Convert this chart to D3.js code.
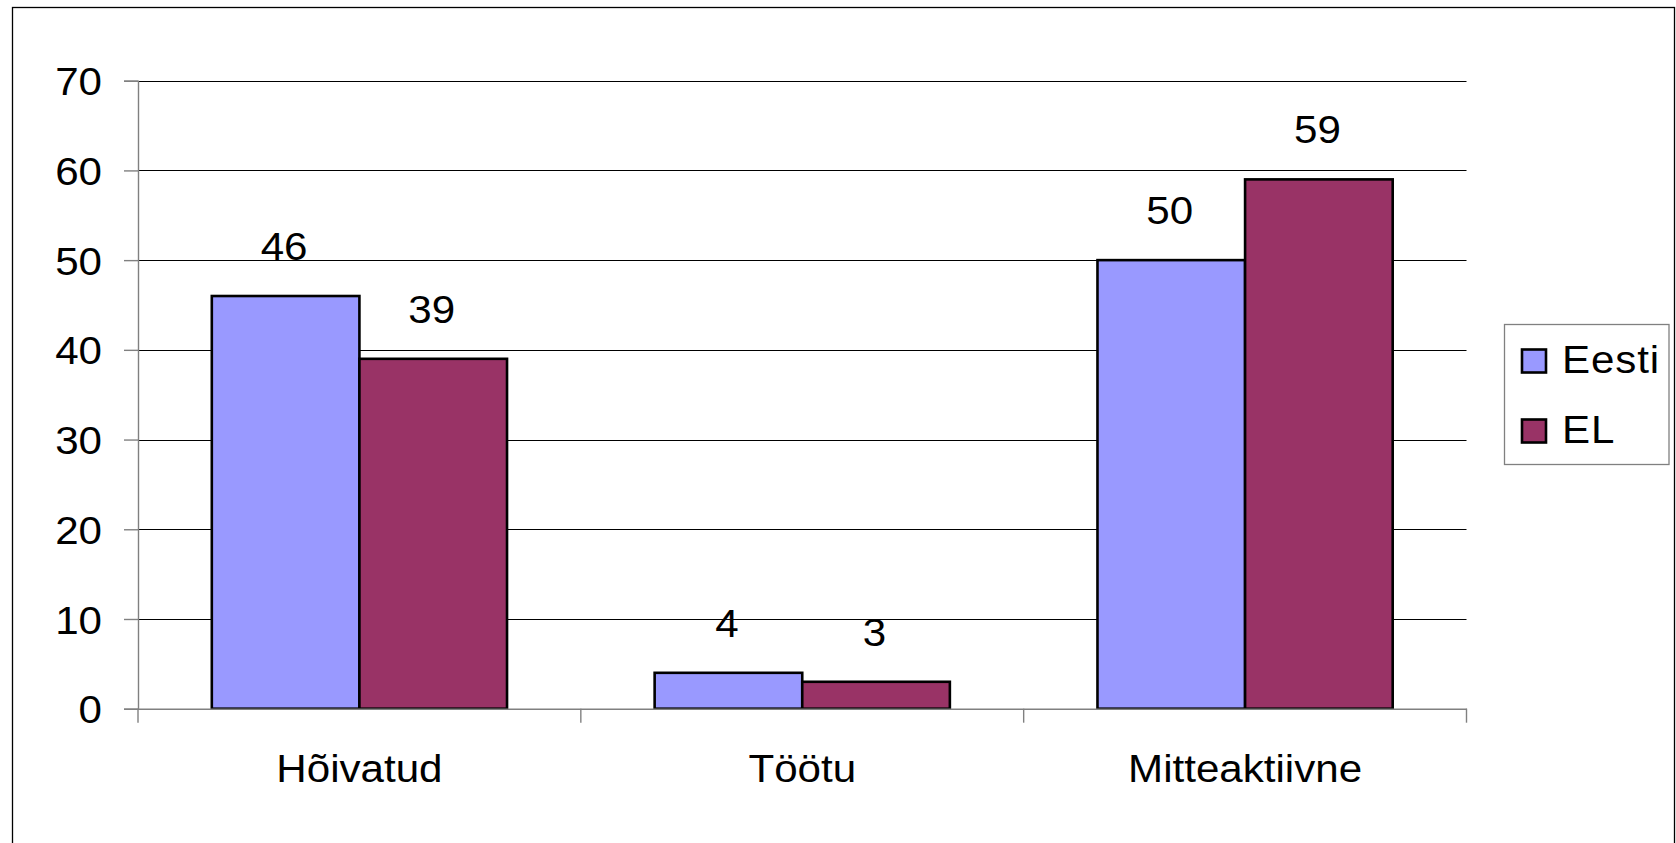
<!DOCTYPE html>
<html>
<head>
<meta charset="utf-8">
<script src="https://cdn.jsdelivr.net/npm/d3@7"></script>
<style>
  html, body { margin: 0; padding: 0; background: #fff; }
  svg { display: block; }
  text { font-family: "Liberation Sans", Arial, sans-serif; fill: #000; }
</style>
</head>
<body>
<svg id="chart" width="1676" height="843"></svg>
<script>
// Labour market status: Estonia vs EU (%)
const categories = ["Hõivatud", "Töötu", "Mitteaktiivne"];
const seriesNames = ["Eesti", "EL"];
const eestiValues = [46, 4, 50];
const elValues = [39, 3, 59];
const yTicks = [0, 10, 20, 30, 40, 50, 60, 70];
const seriesColors = ["#9999FF", "#993366"];

const series = [eestiValues, elValues];

const svg = d3.select("#chart");

// outer chart frame
svg.append("rect")
  .attr("x", 12.5).attr("y", 7.5)
  .attr("width", 1662).attr("height", 900)
  .attr("fill", "#fff").attr("stroke", "#000").attr("stroke-width", 1.3);

const plot = { left: 138, right: 1466.5, top: 80.7, bottom: 708.7 };

const x = d3.scaleBand()
  .domain(categories)
  .range([plot.left, plot.right])
  .paddingInner(0).paddingOuter(0);

const x1 = d3.scaleBand()
  .domain(seriesNames)
  .range([0, x.bandwidth()])
  .paddingOuter(0.5).paddingInner(0);

const y = d3.scaleLinear()
  .domain([0, 70])
  .range([plot.bottom, plot.top]);

const fontSize = 39;
const stretch = 1.08; // slightly wide lettering

// place a text at (px, py) with horizontal stretch about its anchor
function placeText(sel, px, py) {
  sel.attr("x", 0).attr("y", 0)
    .attr("transform", function (d, i) {
      return `translate(${px(d, i)},${py(d, i)}) scale(${stretch},1)`;
    });
}

// horizontal gridlines
svg.append("g")
  .selectAll("line")
  .data(yTicks.filter(d => d > 0))
  .join("line")
  .attr("x1", plot.left).attr("x2", plot.right)
  .attr("y1", d => Math.round(y(d)) + 0.5).attr("y2", d => Math.round(y(d)) + 0.5)
  .attr("stroke", "#000").attr("stroke-width", 1);

// y axis
const yAxis = d3.axisLeft(y).tickValues(yTicks).tickSize(14).tickPadding(22);
const gy = svg.append("g")
  .attr("transform", `translate(${plot.left},0)`)
  .call(yAxis);
gy.select(".domain").attr("stroke", "#808080").attr("stroke-width", 1.4);
gy.selectAll(".tick line").attr("stroke", "#808080").attr("stroke-width", 1.4);
gy.selectAll(".tick text")
  .attr("font-size", fontSize)
  .attr("font-family", "Liberation Sans, Arial, sans-serif")
  .attr("fill", "#000")
  .attr("dy", "0.36em")
  .attr("transform", `translate(-36,0) scale(${stretch},1)`)
  .attr("x", 0);

// bars
const groups = svg.append("g")
  .selectAll("g")
  .data(categories)
  .join("g")
  .attr("transform", d => `translate(${x(d)},0)`);

const cells = (d, i) => seriesNames.map((s, j) => ({ s, j, v: series[j][i] }));

groups.selectAll("rect")
  .data(cells)
  .join("rect")
  .attr("x", d => x1(d.s))
  .attr("width", x1.bandwidth())
  .attr("y", d => y(d.v))
  .attr("height", d => y(0) - y(d.v))
  .attr("fill", d => seriesColors[d.j])
  .attr("stroke", "#000")
  .attr("stroke-width", 2.6);

// value labels
groups.selectAll("text.val")
  .data(cells)
  .join("text")
  .attr("class", "val")
  .attr("text-anchor", "middle")
  .attr("font-size", fontSize)
  .text(d => d.v)
  .call(placeText, d => x1(d.s) + x1.bandwidth() / 2 - 1.5, d => y(d.v) - 36);

// x axis
const xAxis = d3.axisBottom(x).tickSize(0).tickPadding(0).tickFormat("");
const gx = svg.append("g")
  .attr("transform", `translate(0,${plot.bottom})`)
  .call(xAxis);
gx.select(".domain").attr("stroke", "#808080").attr("stroke-width", 1.4);

// category boundary ticks
const boundaries = categories.map(c => x(c)).concat([plot.right]);
gx.append("g").selectAll("line")
  .data(boundaries)
  .join("line")
  .attr("x1", d => d).attr("x2", d => d)
  .attr("y1", 0).attr("y2", 14)
  .attr("stroke", "#808080").attr("stroke-width", 1.4);

// category labels
svg.append("g").selectAll("text")
  .data(categories)
  .join("text")
  .attr("text-anchor", "middle")
  .attr("font-size", fontSize)
  .text(d => d)
  .call(placeText, d => x(d) + x.bandwidth() / 2, () => 781.7);

// legend
const legend = svg.append("g");
legend.append("rect")
  .attr("x", 1504.5).attr("y", 324.5)
  .attr("width", 164.5).attr("height", 140)
  .attr("fill", "#fff").attr("stroke", "#808080").attr("stroke-width", 1.3);

const legendRows = seriesNames.map((s, j) => ({ s, j }));
const ly = d3.scalePoint().domain(seriesNames).range([361, 431]);

legend.selectAll("rect.sw")
  .data(legendRows)
  .join("rect")
  .attr("class", "sw")
  .attr("x", 1522).attr("y", d => ly(d.s) - 11.5)
  .attr("width", 24).attr("height", 23)
  .attr("fill", d => seriesColors[d.j])
  .attr("stroke", "#000").attr("stroke-width", 2.6);

legend.selectAll("text")
  .data(legendRows)
  .join("text")
  .attr("font-size", fontSize)
  .attr("letter-spacing", 0.8)
  .text(d => d.s)
  .call(placeText, () => 1562, d => ly(d.s) + 12);
</script>
</body>
</html>
